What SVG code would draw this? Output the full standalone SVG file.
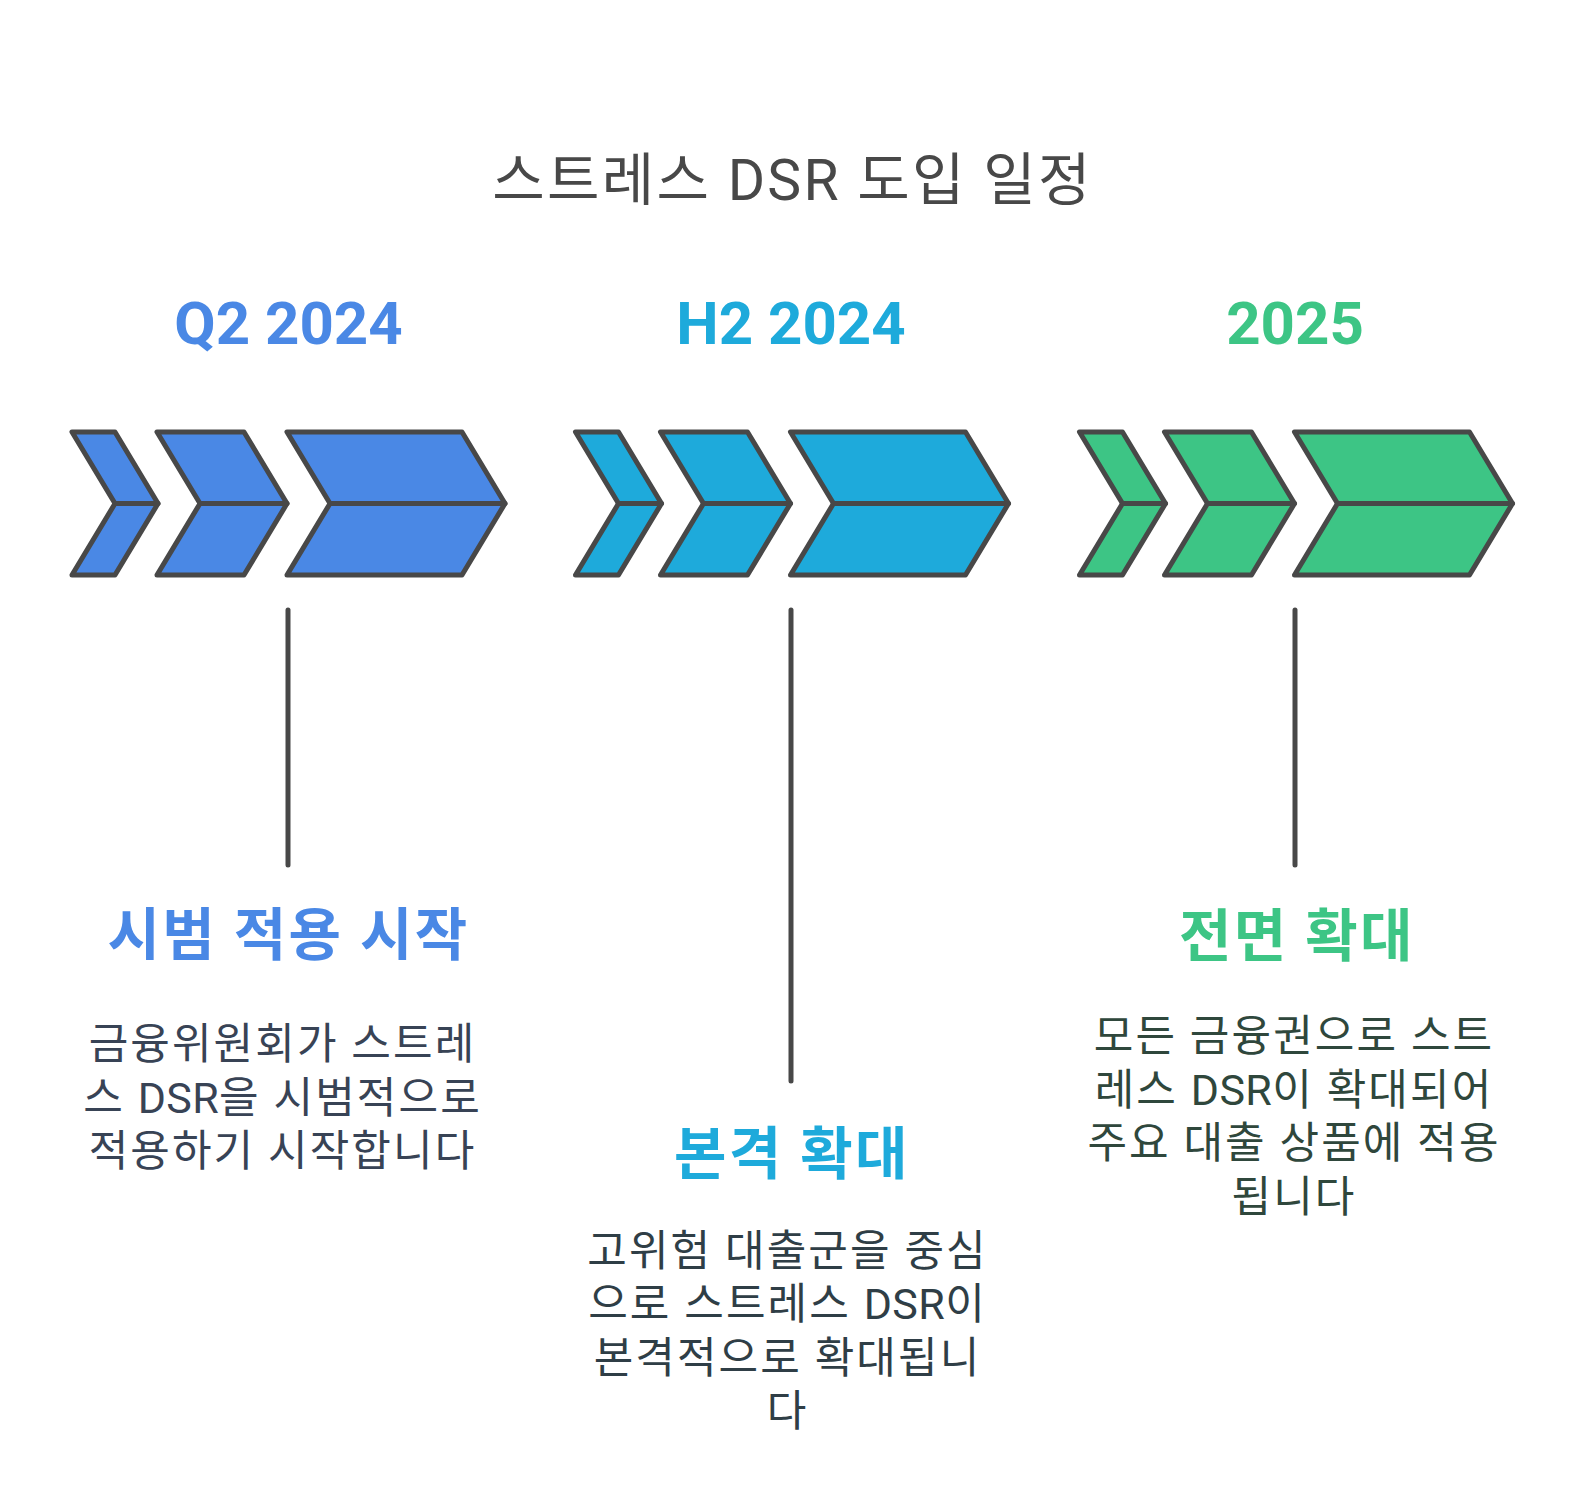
<svg xmlns="http://www.w3.org/2000/svg" width="1584" height="1491" viewBox="0 0 1584 1491">
<style>
.bg{fill:#ffffff}
.chev{stroke:#484848;stroke-width:5;stroke-linejoin:round;stroke-linecap:round}
.b{fill:#4a88e5}
.c{fill:#1eaadb}
.g{fill:#3dc585}
.conn{stroke:#484848;stroke-width:5;stroke-linecap:round;fill:none}
text{font-family:Roboto,"Noto Sans CJK KR","Noto Sans",sans-serif;text-anchor:middle}
.title{font-size:57px;fill:#484848;letter-spacing:2.3px}
.year{font-size:60px;font-weight:700}
.head{font-size:57px;font-weight:700;letter-spacing:2.4px}
.body{font-size:43px;letter-spacing:2.1px}
.lat{letter-spacing:0.4px}
.t1{fill:#4a88e5}
.t2{fill:#1eaadb}
.t3{fill:#3dc585}
.d1{fill:#384355}
.d2{fill:#2f3e46}
.d3{fill:#2f473c}
</style>
<defs>
<g id="chevs">
<path d="M72,432 L115,432 L158,503.5 L115,503.5 Z"/>
<path d="M115,503.5 L158,503.5 L115,575 L72,575 Z"/>
<path d="M157,432 L244,432 L287,503.5 L200,503.5 Z"/>
<path d="M200,503.5 L287,503.5 L244,575 L157,575 Z"/>
<path d="M287,432 L462,432 L505,503.5 L330,503.5 Z"/>
<path d="M330,503.5 L505,503.5 L462,575 L287,575 Z"/>
</g>
</defs>
<rect class="bg" x="0" y="0" width="1584" height="1491"/>
<g id="title"><text class="title" x="792.5" y="200">스트레스 DSR 도입 일정</text></g>
<g id="node-q2-2024">
<use href="#chevs" class="chev b"/>
<text class="year t1" x="288.5" y="344">Q2 2024</text>
<text class="head t1" x="288.5" y="955">시범 적용 시작</text>
<text class="body d1" x="282.5" y="1059">금융위원회가 스트레</text>
<text class="body d1" x="282.5" y="1112.5">스 <tspan class="lat">DSR</tspan>을 시범적으로</text>
<text class="body d1" x="282.5" y="1166">적용하기 시작합니다</text>
</g>
<g id="node-h2-2024">
<use href="#chevs" class="chev c" transform="translate(503.5,0)"/>
<text class="year t2" x="791" y="344">H2 2024</text>
<text class="head t2" x="792" y="1173.5">본격 확대</text>
<text class="body d2" x="787.5" y="1265.5">고위험 대출군을 중심</text>
<text class="body d2" x="787.5" y="1319">으로 스트레스 <tspan class="lat">DSR</tspan>이</text>
<text class="body d2" x="787.5" y="1372.5">본격적으로 확대됩니</text>
<text class="body d2" x="787.5" y="1426">다</text>
</g>
<g id="node-2025">
<use href="#chevs" class="chev g" transform="translate(1007.5,0)"/>
<text class="year t3" x="1295" y="344">2025</text>
<text class="head t3" x="1297" y="956">전면 확대</text>
<text class="body d3" x="1294" y="1051">모든 금융권으로 스트</text>
<text class="body d3" x="1294" y="1104.5">레스 <tspan class="lat">DSR</tspan>이 확대되어</text>
<text class="body d3" x="1294" y="1158">주요 대출 상품에 적용</text>
<text class="body d3" x="1294" y="1211.5">됩니다</text>
</g>
<g id="connectors">
<line class="conn" x1="288" y1="610" x2="288" y2="865"/>
<line class="conn" x1="791" y1="610" x2="791" y2="1081"/>
<line class="conn" x1="1295" y1="610" x2="1295" y2="865"/>
</g>
</svg>
